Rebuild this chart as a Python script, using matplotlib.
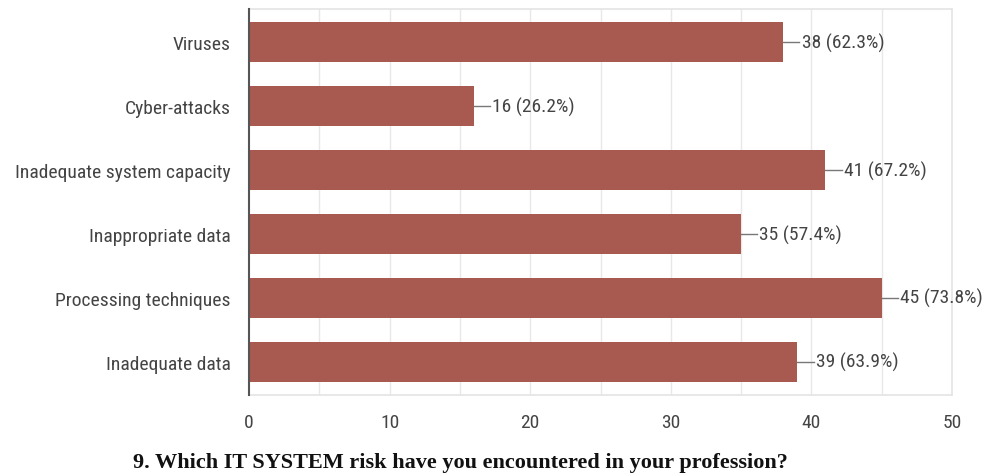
import matplotlib.pyplot as plt
from matplotlib import font_manager

categories = ["Viruses", "Cyber-attacks", "Inadequate system capacity",
              "Inappropriate data", "Processing techniques", "Inadequate data"]
counts = [38, 16, 41, 35, 45, 39]
percents = [62.3, 26.2, 67.2, 57.4, 73.8, 63.9]
x_ticks = [0, 10, 20, 30, 40, 50]
title = "9. Which IT SYSTEM risk have you encountered in your profession?"

fonts = {(f.name, f.stretch) for f in font_manager.fontManager.ttflist}
names = {n for n, _ in fonts}

label_kw = dict(fontfamily="Roboto", fontsize=12.5)
label_size = 12.5
for cand in ("Roboto Condensed", "Liberation Sans Narrow", "DejaVu Sans Condensed"):
    if cand in names:
        label_kw = dict(fontfamily=cand, fontsize=14)
        break
else:
    if any(n == "DejaVu Sans" and s in ("condensed", "semi-condensed") for n, s in fonts):
        label_kw = dict(fontfamily="DejaVu Sans", fontstretch="condensed", fontsize=12.5)

bar_color = "#a85a50"
text_color = "#444444"

fig = plt.figure(figsize=(9.91, 4.77), dpi=100)
ax = fig.add_axes([249 / 991, 1 - 396 / 477, (952 - 249) / 991, (396 - 10) / 477])

ypos = list(range(len(categories)))
ax.barh(ypos, counts, height=0.62, color=bar_color, zorder=3)

ax.set_xlim(0, 50)
ax.set_ylim(len(categories) - 0.48, -0.52)

# grid lines every 5 units
for v in range(5, 50, 5):
    ax.axvline(v, color="#e8e8e8", lw=1, zorder=1)

for side in ("top", "right", "bottom"):
    ax.spines[side].set_color("#e4e4e4")
    ax.spines[side].set_linewidth(1.2)
ax.spines["left"].set_color("#555555")
ax.spines["left"].set_linewidth(1.5)
ax.spines["left"].set_zorder(4)

ax.set_yticks(ypos)
ax.set_yticklabels(categories, color=text_color, **label_kw)
ax.set_xticks(x_ticks)
ax.set_xticklabels([str(t) for t in x_ticks], color=text_color, **label_kw)
ax.tick_params(axis="both", length=0)
ax.tick_params(axis="y", pad=13)
ax.tick_params(axis="x", pad=13)

for y, c, p in zip(ypos, counts, percents):
    ax.plot([c, c + 1.15], [y, y], color="#777777", lw=1, zorder=3, clip_on=False)
    ax.text(c + 1.3, y, f"{c} ({p}%)", va="center", ha="left",
            color=text_color, **label_kw)

fig.text(460 / 991, 1 - 463 / 477, title, ha="center", va="center",
         fontfamily="Liberation Serif", fontweight="bold", fontsize=16, color="#111111")

fig.savefig("out.png", dpi=100, facecolor="white")
